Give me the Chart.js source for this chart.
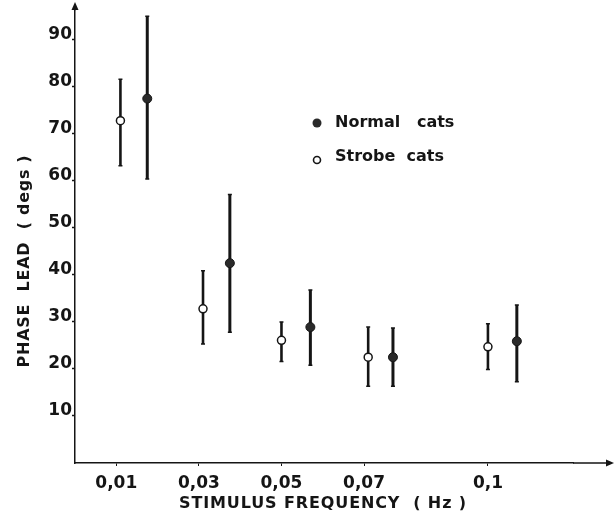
<!DOCTYPE html>
<html>
<head>
<meta charset="utf-8">
<script src="https://cdn.jsdelivr.net/npm/chart.js@4/dist/chart.umd.min.js"></script>
<style>
  html, body { margin: 0; padding: 0; background: #fff; }
  #wrap { width: 616px; height: 516px; }
</style>
</head>
<body>
<div id="wrap"><canvas id="chart" width="616" height="516"></canvas></div>
<script>
// tick positions and labels (Hz)
const xTicks = [0.01, 0.03, 0.05, 0.07, 0.1];
const xTickLabels = ["0,01", "0,03", "0,05", "0,07", "0,1"];
const yTicks = [10, 20, 30, 40, 50, 60, 70, 80, 90];

// Strobe cats (open circles)
const strobeFreq = [0.011, 0.031, 0.050, 0.071, 0.100];
const strobeMean = [72.8, 32.8, 26.1, 22.5, 24.7];
const strobeLow = [63.2, 25.3, 21.6, 16.3, 19.9];
const strobeHigh = [81.6, 40.9, 30.0, 28.9, 29.6];

// Normal cats (filled circles)
const normalFreq = [0.0175, 0.0375, 0.057, 0.077, 0.107];
const normalMean = [77.5, 42.5, 28.9, 22.5, 25.9];
const normalLow = [60.4, 27.8, 20.8, 16.3, 17.3];
const normalHigh = [95.0, 57.1, 36.8, 28.7, 33.6];

const FONT = "'DejaVu Sans', 'Liberation Sans', Arial, sans-serif";
const INK = "#151515";

const toPoints = (xs, ys, lo, hi) =>
  xs.map((x, i) => ({ x: x, y: ys[i], lo: lo[i], hi: hi[i] }));

// write text stretched to a given width with letter spacing
const fitText = (ctx, text, x, y, width) => {
  ctx.letterSpacing = "0px";
  const w = ctx.measureText(text).width;
  const extra = Math.max(0, (width - w) / (text.length - 1));
  ctx.letterSpacing = extra.toFixed(2) + "px";
  ctx.fillText(text, x, y);
  ctx.letterSpacing = "0px";
};

// Draw vertical error bars with small caps, under the points
const errorBars = {
  id: "errorBars",
  beforeDatasetsDraw(chart) {
    const ctx = chart.ctx;
    const xs = chart.scales.x, ys = chart.scales.y;
    ctx.save();
    ctx.strokeStyle = INK;
    chart.data.datasets.forEach((ds) => {
      ds.data.forEach((p) => {
        const px = xs.getPixelForValue(p.x);
        const top = ys.getPixelForValue(p.hi);
        const bot = ys.getPixelForValue(p.lo);
        ctx.lineWidth = ds.barWidth;
        ctx.beginPath();
        ctx.moveTo(px, top);
        ctx.lineTo(px, bot);
        ctx.stroke();
        ctx.lineWidth = 1.5;
        ctx.beginPath();
        ctx.moveTo(px - 2, top); ctx.lineTo(px + 2, top);
        ctx.moveTo(px - 2, bot); ctx.lineTo(px + 2, bot);
        ctx.stroke();
      });
    });
    ctx.restore();
  },
};

// Axis arrows, axis titles and the inline legend
const decorations = {
  id: "decorations",
  afterDraw(chart) {
    const ctx = chart.ctx;
    const a = chart.chartArea;
    ctx.save();
    ctx.strokeStyle = INK;
    ctx.fillStyle = INK;
    ctx.lineWidth = 1.5;
    // x axis extension + arrow
    ctx.beginPath();
    ctx.moveTo(a.right, a.bottom);
    ctx.lineTo(611, a.bottom);
    ctx.stroke();
    ctx.beginPath();
    ctx.moveTo(614, a.bottom);
    ctx.lineTo(606, a.bottom - 3.5);
    ctx.lineTo(606, a.bottom + 3.5);
    ctx.closePath();
    ctx.fill();
    // y axis extension + arrow
    ctx.beginPath();
    ctx.moveTo(a.left, a.top);
    ctx.lineTo(a.left, 6);
    ctx.stroke();
    ctx.beginPath();
    ctx.moveTo(a.left, 2);
    ctx.lineTo(a.left - 3.5, 10);
    ctx.lineTo(a.left + 3.5, 10);
    ctx.closePath();
    ctx.fill();

    // axis titles
    ctx.font = "bold 16px " + FONT;
    ctx.textAlign = "center";
    ctx.textBaseline = "middle";
    fitText(ctx, "STIMULUS FREQUENCY  ( Hz )", 323, 504, 287);
    ctx.save();
    ctx.translate(25, 261);
    ctx.rotate(-Math.PI / 2);
    fitText(ctx, "PHASE  LEAD  ( degs )", 0, 0, 212);
    ctx.restore();

    // legend
    ctx.textAlign = "left";
    ctx.beginPath();
    ctx.arc(317, 123, 4.5, 0, Math.PI * 2);
    ctx.fillStyle = "#2a2a2a";
    ctx.fill();
    ctx.fillStyle = INK;
    ctx.fillText("Normal   cats", 335, 123);
    ctx.beginPath();
    ctx.arc(317, 160, 3.5, 0, Math.PI * 2);
    ctx.fillStyle = "#fff";
    ctx.fill();
    ctx.lineWidth = 1.6;
    ctx.stroke();
    ctx.fillStyle = INK;
    ctx.fillText("Strobe  cats", 335, 157);
    ctx.restore();
  },
};

new Chart(document.getElementById("chart"), {
  type: "scatter",
  plugins: [errorBars, decorations],
  data: {
    datasets: [
      {
        label: "Normal cats",
        data: toPoints(normalFreq, normalMean, normalLow, normalHigh),
        pointRadius: 4.5,
        pointBackgroundColor: "#2a2a2a",
        pointBorderColor: INK,
        pointBorderWidth: 1,
        barWidth: 3,
      },
      {
        label: "Strobe cats",
        data: toPoints(strobeFreq, strobeMean, strobeLow, strobeHigh),
        pointRadius: 4,
        pointBackgroundColor: "#fff",
        pointBorderColor: INK,
        pointBorderWidth: 1.5,
        barWidth: 2.6,
      },
    ],
  },
  options: {
    responsive: false,
    animation: false,
    layout: { padding: { top: 10, right: 43, left: 0, bottom: 0 } },
    plugins: {
      legend: { display: false },
      tooltip: { enabled: false },
    },
    scales: {
      x: {
        type: "linear",
        min: 0,
        max: 0.1206,
        afterFit: (s) => { s.height = 53; },
        afterBuildTicks: (s) => { s.ticks = xTicks.map((v) => ({ value: v })); },
        grid: { drawOnChartArea: false, tickLength: 3, color: INK, tickWidth: 1 },
        border: { color: INK, width: 1.5 },
        ticks: {
          color: INK,
          padding: 7,
          maxRotation: 0,
          font: { family: FONT, size: 17, weight: "bold" },
          callback: (v) => xTickLabels[xTicks.indexOf(v)],
        },
      },
      y: {
        min: 0,
        max: 96.3,
        afterFit: (s) => { s.width = 75; },
        afterBuildTicks: (s) => { s.ticks = yTicks.map((v) => ({ value: v })); },
        grid: { drawOnChartArea: false, tickLength: 3, color: INK, tickWidth: 1.5 },
        border: { color: INK, width: 1.5 },
        ticks: {
          color: INK,
          padding: 0,
          labelOffset: -5,
          font: { family: FONT, size: 17, weight: "bold" },
        },
      },
    },
  },
});
</script>
</body>
</html>
